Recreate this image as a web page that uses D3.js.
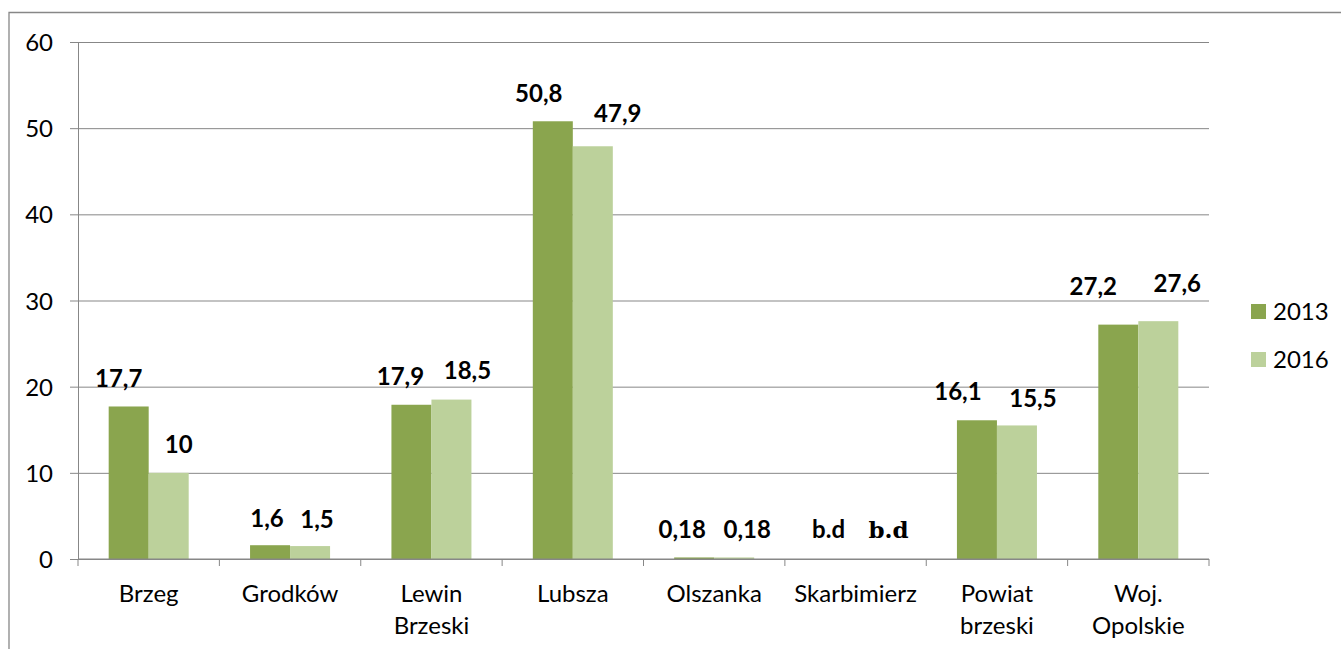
<!DOCTYPE html>
<html>
<head>
<meta charset="utf-8">
<script src="https://cdn.jsdelivr.net/npm/d3@7"></script>
<style>
  body { margin: 0; background: #fff; }
  svg { display: block; }
</style>
</head>
<body>
<div id="chart"></div>
<script>
// donnees
const categories = ["Brzeg", "Grodków", "Lewin\nBrzeski", "Lubsza", "Olszanka", "Skarbimierz", "Powiat\nbrzeski", "Woj.\nOpolskie"];
const series = ["2013", "2016"];
const values2013 = [17.7, 1.6, 17.9, 50.8, 0.18, null, 16.1, 27.2];
const values2016 = [10, 1.5, 18.5, 47.9, 0.18, null, 15.5, 27.6];
const yTicks = [0, 10, 20, 30, 40, 50, 60];

const colors = {"2013": "#8aa54e", "2016": "#bcd19b"};
const gridColor = "#878787";
const fontSans = "Lato, sans-serif";

// decalage des etiquettes (px), comme dans l'original
const labelDx = {"2013": [-10, -3, -11, -14, -12, -7, -19, -25], "2016": [10, 7, 16, 25, 13, 13, 16, 19]};
const labelGap = {"2013": [19, 18, 20, 19, 19, 21, 20, 30], "2016": [20, 18, 21, 24, 19, 21, 18, 29]};

const W = 1341, H = 649;
const plot = {left: 78, top: 42, right: 1209, bottom: 559};
const plotW = plot.right - plot.left;
const plotH = plot.bottom - plot.top;

const svg = d3.select("#chart").append("svg")
  .attr("width", W).attr("height", H);

// cadre
svg.append("path")
  .attr("d", `M9,${H} L9,12.5 L${W},12.5`)
  .attr("fill", "none").attr("stroke", gridColor).attr("stroke-width", 1.3);

const g = svg.append("g").attr("transform", `translate(${plot.left},${plot.top})`);

const x0 = d3.scaleBand().domain(categories).range([0, plotW]).paddingInner(0).paddingOuter(0);
const x1 = d3.scaleBand().domain(series).range([0, x0.bandwidth()]).paddingInner(0).paddingOuter(0.767);
const y = d3.scaleLinear().domain([0, 60]).range([plotH, 0]);

// axe Y + grille
const yAxis = g.append("g")
  .call(d3.axisLeft(y).tickValues(yTicks).tickSize(-plotW).tickSizeOuter(0));
yAxis.select(".domain").attr("stroke", gridColor);
yAxis.selectAll(".tick line").attr("x1", -8).attr("x2", plotW).attr("stroke", gridColor);
yAxis.selectAll(".tick text")
  .attr("x", -25)
  .attr("dy", "0.36em")
  .style("font-family", fontSans)
  .style("font-size", "24px")
  .attr("fill", "#000");

// barres
const rows = categories.map((c, i) => ({cat: c, i: i, vals: [
  {s: "2013", v: values2013[i]},
  {s: "2016", v: values2016[i]}
]}));

const groups = g.append("g").selectAll("g")
  .data(rows)
  .join("g")
  .attr("transform", d => `translate(${x0(d.cat)},0)`);

groups.selectAll("rect")
  .data(d => d.vals.filter(v => v.v !== null))
  .join("rect")
  .attr("x", d => x1(d.s))
  .attr("width", x1.bandwidth())
  .attr("y", d => y(d.v))
  .attr("height", d => y(0) - y(d.v))
  .attr("fill", d => colors[d.s]);

// etiquettes
groups.selectAll("text")
  .data(d => d.vals.map(v => ({...v, i: d.i})))
  .join("text")
  .attr("x", d => x1(d.s) + x1.bandwidth() / 2 + labelDx[d.s][d.i])
  .attr("y", d => y(d.v === null ? 0 : d.v) - labelGap[d.s][d.i])
  .attr("text-anchor", "middle")
  .style("font-family", d => (d.v === null && d.s === "2016") ? "'DejaVu Serif', serif" : fontSans)
  .style("font-size", d => (d.v === null && d.s === "2016") ? "23px" : "24px")
  .style("font-weight", "bold")
  .text(d => d.v === null ? "b.d" : String(d.v).replace(".", ","));

// axe X
const xAxis = g.append("g").attr("transform", `translate(0,${plotH})`);
xAxis.append("line")
  .attr("x1", 0).attr("x2", plotW)
  .attr("stroke", gridColor);
xAxis.selectAll(".xtick")
  .data(categories.map(c => x0(c)).concat([plotW]))
  .join("line")
  .attr("class", "xtick")
  .attr("x1", d => d).attr("x2", d => d)
  .attr("y1", 0).attr("y2", 7)
  .attr("stroke", gridColor);

xAxis.selectAll(".xlab")
  .data(categories)
  .join("text")
  .attr("class", "xlab")
  .attr("text-anchor", "middle")
  .attr("transform", d => `translate(${x0(d) + x0.bandwidth() / 2},43)`)
  .style("font-family", fontSans)
  .style("font-size", "24px")
  .selectAll("tspan")
  .data(d => d.split("\n"))
  .join("tspan")
  .attr("x", 0)
  .attr("y", (d, i) => i * 32)
  .text(d => d);

// legende
const legend = svg.append("g").attr("transform", "translate(1251,304)");
const items = legend.selectAll("g")
  .data(series)
  .join("g")
  .attr("transform", (d, i) => `translate(0,${i * 48})`);
items.append("rect")
  .attr("width", 15).attr("height", 15)
  .attr("fill", d => colors[d]);
items.append("text")
  .attr("x", 22).attr("y", 16)
  .style("font-family", fontSans)
  .style("font-size", "24px")
  .text(d => d);
</script>
</body>
</html>
